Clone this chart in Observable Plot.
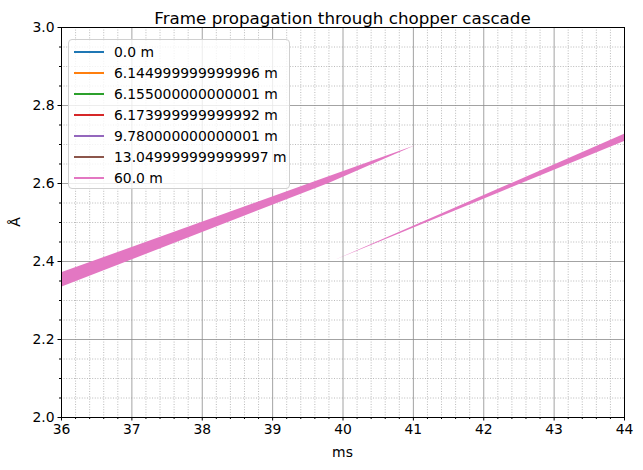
<!DOCTYPE html>
<html>
<head>
<meta charset="utf-8">
<script src="https://cdn.jsdelivr.net/npm/d3@7"></script>
<script src="https://cdn.jsdelivr.net/npm/@observablehq/plot@0.6"></script>
<style>
  html, body { margin: 0; padding: 0; background: #fff; }
  #wrap { position: relative; width: 643px; height: 470px; font-family: "DejaVu Sans", sans-serif; color: #000; }
  #wrap svg { position: absolute; left: 0; top: 0; }
  .lbl { position: absolute; white-space: nowrap; }
  #legend { position: absolute; left: 68px; top: 39px; width: 222px; height: 150px; box-sizing: border-box;
            border: 1px solid #d0d0d0; border-radius: 4px; background: rgba(255,255,255,0.8); }
  .row { position: absolute; left: 0; height: 21px; display: flex; align-items: center; font-size: 13.9px; }
  .row .sw { width: 30px; height: 2px; margin-left: 5px; margin-right: 10px; }
</style>
</head>
<body>
<div id="wrap"></div>
<script>
// ---- data ----
const seriesNames = ["0.0 m", "6.144999999999996 m", "6.155000000000001 m", "6.173999999999992 m",
  "9.780000000000001 m", "13.049999999999997 m", "60.0 m"];
const seriesColors = ["#1f77b4", "#ff7f0e", "#2ca02c", "#d62728", "#9467bd", "#8c564b", "#e377c2"];

// 60 m detector frames (time in ms, wavelength in Å): polygon described by lower/upper edges
const frame1T = [36.0, 39.8, 41.03];
const frame1Lo = [2.334, 2.600, 2.697];
const frame1Hi = [2.371, 2.617, 2.697];
const frame2T = [39.89, 44.0];
const frame2Lo = [2.403, 2.708];
const frame2Hi = [2.403, 2.726];

const xMajor = [36, 37, 38, 39, 40, 41, 42, 43, 44];
const yMajor = [2.0, 2.2, 2.4, 2.6, 2.8, 3.0];
const xMinor = d3.range(36, 44.0001, 0.2).map(v => +v.toFixed(2)).filter(v => !xMajor.includes(v));
const yMinor = d3.range(2.0, 3.0001, 0.05).map(v => +v.toFixed(2)).filter(v => !yMajor.some(m => Math.abs(m - v) < 1e-9));

const rows = [];
frame1T.forEach((t, i) => rows.push({frame: "f1", t, lo: frame1Lo[i], hi: frame1Hi[i]}));
frame2T.forEach((t, i) => rows.push({frame: "f2", t, lo: frame2Lo[i], hi: frame2Hi[i]}));

const plot = Plot.plot({
  width: 643, height: 470,
  marginLeft: 61, marginRight: 19, marginTop: 27, marginBottom: 53,
  style: {fontFamily: "DejaVu Sans, sans-serif", fontSize: "13.9px", color: "#000", background: "transparent", overflow: "visible"},
  x: {domain: [36, 44]},
  y: {domain: [2.0, 3.0]},
  marks: [
    Plot.gridX(xMinor, {stroke: "#a8a8a8", strokeOpacity: 1, strokeWidth: 0.8, strokeDasharray: "1,1.6"}),
    Plot.gridY(yMinor, {stroke: "#a8a8a8", strokeOpacity: 1, strokeWidth: 0.8, strokeDasharray: "1,1.6"}),
    Plot.gridX(xMajor, {stroke: "#8c8c8c", strokeOpacity: 1, strokeWidth: 0.8}),
    Plot.gridY(yMajor, {stroke: "#8c8c8c", strokeOpacity: 1, strokeWidth: 0.8}),
    Plot.areaY(rows, {x: "t", y1: "lo", y2: "hi", z: "frame", fill: seriesColors[6], fillOpacity: 1, clip: true}),
    Plot.axisX(xMinor, {tickSize: 2, tickFormat: () => "", label: null}),
    Plot.axisY(yMinor, {tickSize: 2, tickFormat: () => "", label: null}),
    Plot.axisX(xMajor, {tickSize: 3.5, tickPadding: 3.5, tickFormat: d => String(d), label: null, fontSize: 13.9}),
    Plot.axisY(yMajor, {tickSize: 3.5, tickPadding: 3.5, tickFormat: d3.format(".1f"), label: null, fontSize: 13.9}),
    Plot.frame({stroke: "#000", strokeWidth: 1})
  ]
});

const wrap = document.getElementById("wrap");
wrap.appendChild(plot);

function addLabel(text, css) {
  const d = document.createElement("div");
  d.className = "lbl";
  d.textContent = text;
  Object.assign(d.style, css);
  wrap.appendChild(d);
  return d;
}
addLabel("Frame propagation through chopper cascade", {left: "61px", width: "563px", textAlign: "center", top: "8px", fontSize: "16.7px", lineHeight: "20px"});
addLabel("ms", {left: "61px", width: "563px", textAlign: "center", top: "443px", fontSize: "13.9px", lineHeight: "18px"});
const yl = addLabel("Å", {left: "5px", top: "213px", width: "20px", textAlign: "center", fontSize: "13.9px", lineHeight: "18px", transform: "rotate(-90deg)"});

const legend = document.createElement("div");
legend.id = "legend";
seriesNames.forEach((name, i) => {
  const r = document.createElement("div");
  r.className = "row";
  r.style.top = (1 + i * 21) + "px";
  const sw = document.createElement("div");
  sw.className = "sw";
  sw.style.background = seriesColors[i];
  const tx = document.createElement("span");
  tx.textContent = name;
  r.appendChild(sw); r.appendChild(tx);
  legend.appendChild(r);
});
wrap.appendChild(legend);
</script>
</body>
</html>
